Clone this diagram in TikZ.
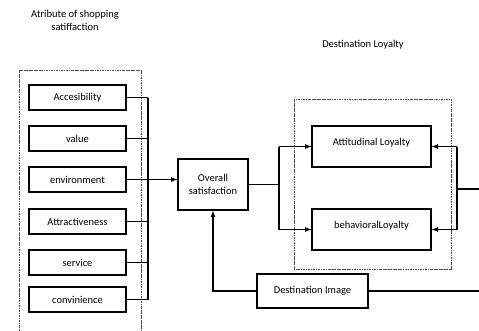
\documentclass[tikz,border=0pt]{standalone}
\usepackage{fontspec}
\setmainfont{Carlito}
\usetikzlibrary{positioning, arrows}

\begin{document}
\begin{tikzpicture}
	[x=1pt, y=-1pt, on grid, >=latex, line width=1.2pt,
	 attr/.style={draw, minimum width=97pt, minimum height=25pt, inner sep=0pt, font=\fontsize{10.5}{12.5}\selectfont},
	 loyal/.style={draw, minimum width=119pt, minimum height=41pt, inner sep=0pt, text height=7pt, text depth=9pt, font=\fontsize{10.5}{12.5}\selectfont},
	 group/.style={draw=black!70, line width=0.5pt, dash pattern=on 2.5pt off 1pt on 0.6pt off 1pt},
	 heading/.style={font=\fontsize{10.5}{13}\selectfont, align=center}]
   \useasboundingbox (0,0) rectangle (479,330);

   % headings
   \node[heading] (h_attr) at (75,20) {Atribute of shopping\\satiffaction};
   \node[heading] (h_loyal) at (363,45) {Destination Loyalty};

   % group frames
   \draw[group] (19,70) rectangle (141,345);
   \draw[group] (294,99) rectangle (451,269);

   % attributes
   \node[attr] (acc) at (77.5,97.5) {Accesibility};
   \node[attr] (val) [below=41pt of acc] {value};
   \node[attr] (env) [below=41pt of val] {environment};
   \node[attr] (attr) [below=42pt of env] {Attractiveness};
   \node[attr] (serv) [below=41pt of attr] {service};
   \node[attr] (conv) [below=37pt of serv] {convinience};

   \node[draw, minimum width=70pt, minimum height=51pt, inner sep=0pt, align=center,
         font=\fontsize{10.5}{13}\selectfont] (ovr) at (213,184.5) {Overall\\satisfaction};
   \node[loyal] (att) at (371.5,146.5) {Attitudinal Loyalty};
   \node[loyal] (beh) [below=83pt of att] {behavioralLoyalty};
   \node[draw, minimum width=111pt, minimum height=34pt, inner sep=0pt,
         font=\fontsize{10.5}{12.5}\selectfont] (img) at (312.5,291) {Destination Image};

   \coordinate (lbus) at (148,0);
   \coordinate (split) at (279,0);
   \coordinate (rbus) at (457,0);
   \coordinate (rloop) at (486,189);

   % attributes -> overall
   \foreach \a in {acc,val,env,attr,serv,conv}
      \draw (\a.east) -- (\a.east -| lbus);
   \draw (acc.east -| lbus) -- (conv.east -| lbus);
   \draw[->] (env.east -| lbus) -- (env.east -| ovr.west);

   % overall -> loyalty
   \draw (ovr.east) -- (ovr.east -| split);
   \draw (att.west -| split) -- (beh.west -| split);
   \draw[->] (att.west -| split) -- (att.west);
   \draw[->] (beh.west -| split) -- (beh.west);

   % image -> overall, image -> loyalty
   \draw[->] (img.west) -| (ovr.south);
   \draw (img.east) -| (rloop) -- (rloop -| rbus);
   \draw (att.east -| rbus) -- (beh.east -| rbus);
   \draw[->] (att.east -| rbus) -- (att.east);
   \draw[->] (beh.east -| rbus) -- (beh.east);

\end{tikzpicture}
\end{document}
